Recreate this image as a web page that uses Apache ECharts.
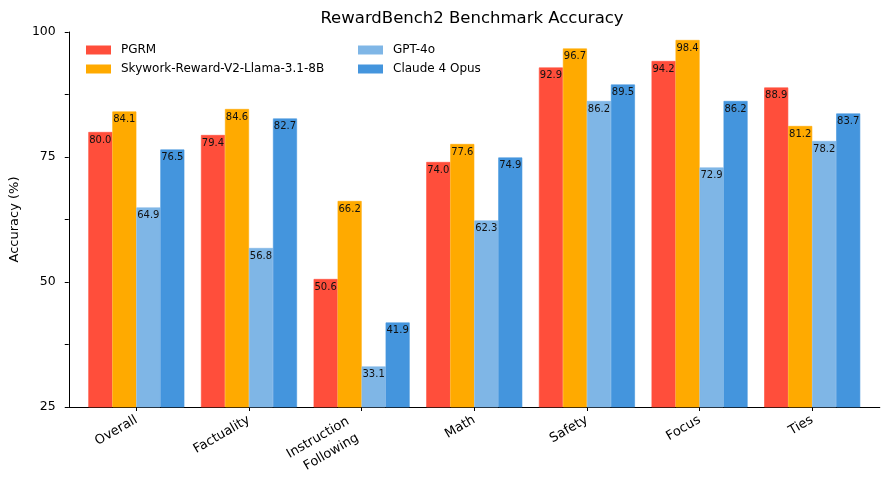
<!DOCTYPE html>
<html>
<head>
    <meta charset="utf-8">
    <title>RewardBench2 Benchmark Accuracy</title>
    <script src="https://cdn.jsdelivr.net/npm/echarts@6/dist/echarts.min.js"></script>
</head>
<body style="margin:0;">
    <div id="main" style="width: 889px;height:490px;"></div>
    <script type="text/javascript">
        var categories = ['Overall', 'Factuality', 'Instruction\nFollowing', 'Math', 'Safety', 'Focus', 'Ties'];
        var pgrm = [80.0, 79.4, 50.6, 74.0, 92.9, 94.2, 88.9];
        var skywork = [84.1, 84.6, 66.2, 77.6, 96.7, 98.4, 81.2];
        var gpt4o = [64.9, 56.8, 33.1, 62.3, 86.2, 72.9, 78.2];
        var claude = [76.5, 82.7, 41.9, 74.9, 89.5, 86.2, 83.7];
        var yTicks = [25, 50, 75, 100];

        var font = 'DejaVu Sans';
        var myChart = echarts.init(document.getElementById('main'));

        // bars sit on a value x axis so the padding at both ends (0.6 of a slot) matches
        function makeBar(name, color, values) {
            return {
                name: name,
                type: 'bar',
                barWidth: 24,
                barGap: '0%',
                // same-colour outline hides the hairline seams between touching bars
                itemStyle: { color: color, borderColor: color, borderWidth: 0.6, borderRadius: 0 },
                label: {
                    show: true,
                    position: 'insideTop',
                    distance: 3,
                    fontFamily: font,
                    fontSize: 10,
                    color: '#111',
                    formatter: function (p) { return p.value[1].toFixed(1); }
                },
                data: values.map(function (v, i) { return [i, v]; })
            };
        }

        var idx = categories.map(function (c, i) { return i; });
        var legendText = { fontFamily: font, fontSize: 12, color: '#000', padding: [0, 0, 0, 5], lineHeight: 14 };

        var option = {
            animation: false,
            title: {
                text: 'RewardBench2 Benchmark Accuracy',
                left: 472,
                textAlign: 'center',
                top: 10,
                padding: 0,
                textStyle: { fontFamily: font, fontSize: 16.5, fontWeight: 'normal', color: '#000' }
            },
            legend: [{
                data: ['PGRM', 'Skywork-Reward-V2-Llama-3.1-8B'],
                orient: 'vertical',
                left: 86,
                top: 43,
                padding: 0,
                itemWidth: 25,
                itemHeight: 9,
                itemGap: 5,
                icon: 'rect',
                itemStyle: { borderWidth: 0 },
                textStyle: legendText
            }, {
                data: ['GPT-4o', 'Claude 4 Opus'],
                orient: 'vertical',
                left: 358,
                top: 43,
                padding: 0,
                itemWidth: 25,
                itemHeight: 9,
                itemGap: 5,
                icon: 'rect',
                itemStyle: { borderWidth: 0 },
                textStyle: legendText
            }],
            // 113 px per category so bar edges fall on whole pixels
            grid: { left: 66.2, right: 9.2, top: 32, bottom: 83 },
            xAxis: {
                type: 'value',
                min: -0.6,
                max: 6.6,
                splitLine: { show: false },
                axisLine: { show: true, onZero: false, lineStyle: { color: '#000', width: 1 } },
                axisTick: { show: true, customValues: idx, length: 4, lineStyle: { color: '#000' } },
                axisLabel: {
                    customValues: idx,
                    rotate: 30,
                    margin: 12,
                    fontFamily: font,
                    fontSize: 13,
                    color: '#000',
                    lineHeight: 19,
                    rich: { e: { lineHeight: 8, fontSize: 4 } },
                    formatter: function (v) {
                        var s = categories[Math.round(v)];
                        if (s.indexOf('\n') < 0) return s;
                        // two-line labels hang below the tick like matplotlib
                        return '{e| }\n' + s.split('\n').join('   \n') + '   ';
                    }
                }
            },
            yAxis: {
                type: 'value',
                min: 25,
                max: 100,
                interval: 12.5,
                name: 'Accuracy (%)',
                nameLocation: 'middle',
                nameGap: 44,
                nameRotate: 90,
                nameTextStyle: { fontFamily: font, fontSize: 13, color: '#000' },
                splitLine: { show: false },
                axisLine: { show: true, onZero: false, lineStyle: { color: '#000', width: 1 } },
                axisTick: { show: true, length: 4, lineStyle: { color: '#000' } },
                axisLabel: {
                    margin: 13,
                    fontFamily: font,
                    fontSize: 12.5,
                    color: '#000',
                    formatter: function (v) { return yTicks.indexOf(v) >= 0 ? String(v) : ''; }
                }
            },
            series: [
                makeBar('PGRM', '#FF4E3B', pgrm),
                makeBar('Skywork-Reward-V2-Llama-3.1-8B', '#FFAA00', skywork),
                makeBar('GPT-4o', '#7FB6E6', gpt4o),
                makeBar('Claude 4 Opus', '#4495DD', claude)
            ]
        };
        myChart.setOption(option);
    </script>
</body>
</html>
